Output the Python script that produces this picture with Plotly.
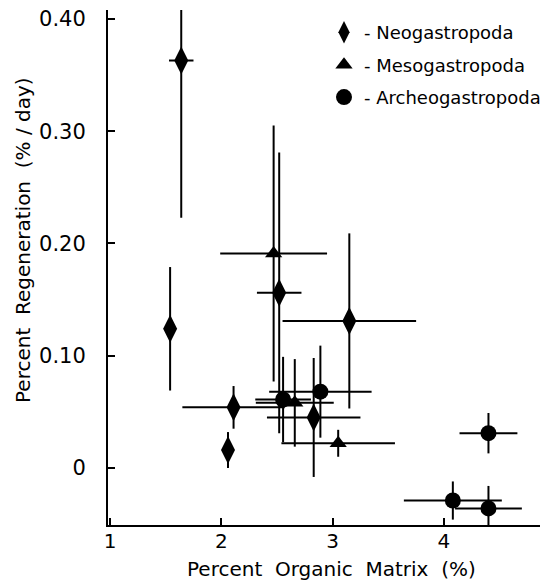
import plotly.graph_objects as go

# Neogastropoda (diamonds)
neo_x = [1.64, 1.54, 2.11, 2.06, 2.52, 3.15, 2.83]
neo_y = [0.363, 0.124, 0.054, 0.016, 0.156, 0.131, 0.045]
neo_ex = [0.11, 0.0, 0.46, 0.0, 0.20, 0.60, 0.42]
neo_ey = [0.14, 0.055, 0.019, 0.016, 0.125, 0.078, 0.053]

# Mesogastropoda (triangles)
meso_x = [2.47, 2.66, 3.05]
meso_y = [0.191, 0.058, 0.022]
meso_ex = [0.48, 0.35, 0.51]
meso_ey = [0.114, 0.039, 0.012]

# Archeogastropoda (circles)
arch_x = [2.555, 2.89, 4.40, 4.08, 4.40]
arch_y = [0.061, 0.068, 0.031, -0.029, -0.036]
arch_ex = [0.25, 0.46, 0.26, 0.44, 0.30]
arch_ey = [0.038, 0.041, 0.018, 0.017, 0.020]

x_ticks = [1, 2, 3, 4]
x_labels = ["1", "2", "3", "4"]
y_ticks = [0, 0.1, 0.2, 0.3, 0.4]
y_labels = ["0", "0.10", "0.20", "0.30", "0.40"]

FONT = "DejaVu Sans, Liberation Sans, sans-serif"
NB = "\u00a0"

def err(vals):
    return dict(type="data", array=vals, visible=True, color="black",
                thickness=2, width=0)

fig = go.Figure()
fig.add_trace(go.Scatter(x=neo_x, y=neo_y, mode="markers", name="- Neogastropoda",
                         legendgroup="a",
                         marker=dict(symbol="diamond-tall", size=20, color="black"),
                         error_x=err(neo_ex), error_y=err(neo_ey)))
fig.add_trace(go.Scatter(x=meso_x, y=meso_y, mode="markers", name="- Mesogastropoda",
                         legendgroup="b",
                         marker=dict(symbol="triangle-up", size=15, color="black"),
                         error_x=err(meso_ex), error_y=err(meso_ey)))
fig.add_trace(go.Scatter(x=arch_x, y=arch_y, mode="markers", name="- Archeogastropoda",
                         legendgroup="c",
                         marker=dict(symbol="circle", size=16, color="black"),
                         error_x=err(arch_ex), error_y=err(arch_ey)))

fig.update_layout(
    width=541, height=583,
    margin=dict(l=108, r=1, t=10, b=58, autoexpand=False),
    paper_bgcolor="white", plot_bgcolor="white",
    font=dict(family=FONT, size=18, color="black"),
    showlegend=True,
    legend=dict(x=0.50, y=0.992, xanchor="left", yanchor="top",
                bgcolor="rgba(0,0,0,0)", tracegroupgap=6,
                font=dict(size=18, family=FONT)),
    xaxis=dict(range=[0.982, 4.863], tickvals=x_ticks, ticktext=x_labels,
               showgrid=False, zeroline=False, showline=True, linecolor="black",
               linewidth=2, ticks="inside", ticklen=7, tickwidth=2, tickcolor="black",
               tickfont=dict(size=20), ticklabelstandoff=-3),
    yaxis=dict(range=[-0.0508, 0.408], tickvals=y_ticks, ticktext=y_labels,
               showgrid=False, zeroline=False, showline=True, linecolor="black",
               linewidth=2, ticks="inside", ticklen=7, tickwidth=2, tickcolor="black",
               tickfont=dict(size=21), ticklabelstandoff=16),
    annotations=[
        dict(text=f"Percent{NB}{NB}Organic{NB}{NB}Matrix{NB}{NB}(%)", xref="paper", yref="paper",
             x=(331 - 108) / 432, y=(525 - 569) / 515, xanchor="center", yanchor="middle",
             showarrow=False, font=dict(size=20)),
        dict(text=f"Percent{NB}{NB}Regeneration{NB}{NB}(%{NB}/{NB}day)", xref="paper", yref="paper",
             x=(23 - 108) / 432, y=(525 - 240) / 515, xanchor="center", yanchor="middle",
             textangle=-90, showarrow=False, font=dict(size=20)),
    ],
)

fig.write_html("out.html", config={"displayModeBar": False},
               post_script="document.body.style.margin='0';document.body.style.overflow='hidden';")
